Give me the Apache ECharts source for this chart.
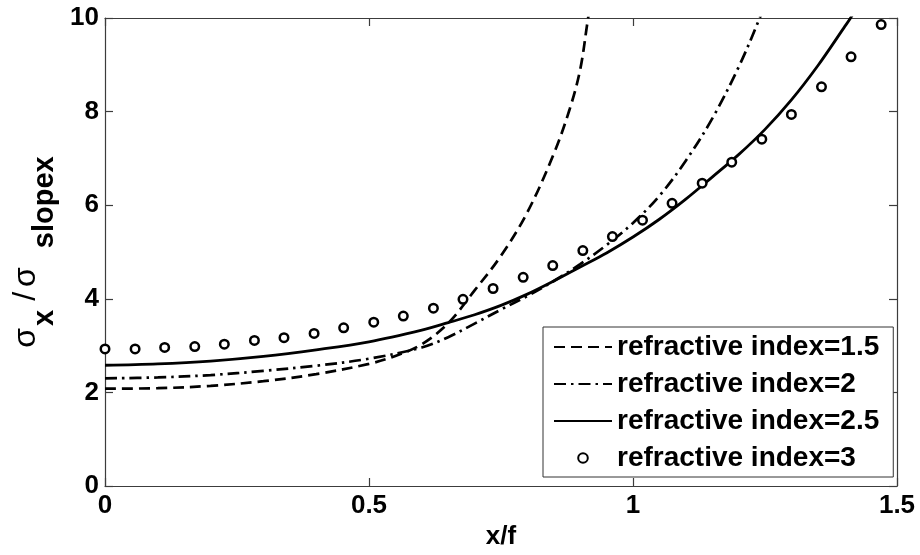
<!DOCTYPE html>
<html>
<head>
<meta charset="utf-8">
<script src="https://cdn.jsdelivr.net/npm/echarts@6/dist/echarts.min.js"></script>
<style>
html,body{margin:0;padding:0;background:#fff;}
#chart{width:920px;height:555px;}
</style>
</head>
<body>
<div id="chart"></div>
<script>
// ---- data ----
var seriesNames = ['refractive index=1.5', 'refractive index=2', 'refractive index=2.5', 'refractive index=3'];

var xN15 = [0, 0.1, 0.2, 0.3, 0.4, 0.5, 0.55, 0.6, 0.65, 0.7, 0.75, 0.8, 0.85, 0.88, 0.9, 0.915, 0.93];
var yN15 = [2.08, 2.09, 2.14, 2.24, 2.39, 2.61, 2.78, 3.03, 3.48, 4.18, 4.92, 5.85, 7.1, 8.05, 8.9, 10.0, 11.0];

var xN2 = [0, 0.1, 0.2, 0.3, 0.4, 0.5, 0.6, 0.65, 0.7, 0.75, 0.8, 0.85, 0.9, 0.95, 1.0, 1.05, 1.1, 1.15, 1.2, 1.24, 1.26];
var yN2 = [2.30, 2.32, 2.37, 2.46, 2.57, 2.72, 2.96, 3.18, 3.47, 3.77, 4.06, 4.38, 4.74, 5.15, 5.62, 6.20, 6.95, 7.85, 8.95, 10.0, 10.6];

var xN25 = [0, 0.1, 0.2, 0.3, 0.4, 0.5, 0.6, 0.65, 0.7, 0.75, 0.8, 0.85, 0.9, 0.95, 1.0, 1.05, 1.1, 1.15, 1.2, 1.25, 1.3, 1.35, 1.4, 1.412, 1.43];
var yN25 = [2.58, 2.61, 2.67, 2.77, 2.91, 3.08, 3.33, 3.49, 3.66, 3.86, 4.10, 4.38, 4.68, 4.98, 5.32, 5.70, 6.13, 6.60, 7.08, 7.62, 8.25, 8.98, 9.80, 10.0, 10.35];

var xN3 = [0, 0.057, 0.113, 0.170, 0.226, 0.283, 0.339, 0.396, 0.452, 0.509, 0.565, 0.622, 0.678, 0.735, 0.792, 0.848, 0.905, 0.961, 1.018, 1.074, 1.131, 1.187, 1.244, 1.300, 1.357, 1.413, 1.470];
var yN3 = [2.93, 2.93, 2.96, 2.98, 3.03, 3.11, 3.17, 3.26, 3.38, 3.50, 3.63, 3.80, 3.99, 4.22, 4.46, 4.71, 5.03, 5.33, 5.68, 6.04, 6.47, 6.92, 7.41, 7.94, 8.53, 9.17, 9.86];

var xTicks = {min: 0, max: 1.5, interval: 0.5};
var yTicks = {min: 0, max: 10, interval: 2};

function pairs(xs, ys) {
  var out = [];
  for (var i = 0; i < xs.length; i++) out.push([xs[i], ys[i]]);
  return out;
}

var FONT = 'Liberation Sans';
var AX = '#3c3c3c';

var chart = echarts.init(document.getElementById('chart'), null, {renderer: 'canvas'});

var axisBase = {
  type: 'value',
  splitLine: {show: false},
  axisLine: {show: true, onZero: false, lineStyle: {color: AX, width: 1.2}},
  axisTick: {show: true, inside: true, length: 8, lineStyle: {color: AX, width: 1.2}}
};

function mk(extra) {
  return Object.assign({}, JSON.parse(JSON.stringify(axisBase)), extra);
}

var hideSym = {opacity: 0};

var option = {
  animation: false,
  backgroundColor: '#fff',
  textStyle: {fontFamily: FONT},
  grid: {left: 105, right: 23, top: 18, bottom: 69, containLabel: false},
  xAxis: [
    mk({
      position: 'bottom', min: xTicks.min, max: xTicks.max, interval: xTicks.interval,
      axisLabel: {fontSize: 26, fontWeight: 'bold', color: '#000', margin: 7, fontFamily: FONT},
      name: 'x/f', nameLocation: 'middle', nameGap: 38,
      nameTextStyle: {fontSize: 26, fontWeight: 'bold', color: '#000', fontFamily: FONT}
    }),
    mk({
      position: 'top', min: xTicks.min, max: xTicks.max, interval: xTicks.interval,
      axisLabel: {show: false}
    })
  ],
  yAxis: [
    mk({
      position: 'left', min: yTicks.min, max: yTicks.max, interval: yTicks.interval,
      axisLabel: {fontSize: 26, fontWeight: 'bold', color: '#000', margin: 6, fontFamily: FONT},
      name: '{a|σ}{b|x}{c|/}{a|σ}{d|slopex}', nameLocation: 'middle', nameGap: 44, nameRotate: 90,
      nameTextStyle: {
        color: '#000',
        rich: {
          a: {fontSize: 32, fontWeight: 'normal', color: '#000', fontFamily: FONT},
          b: {fontSize: 29, fontWeight: 'bold', color: '#000', fontFamily: FONT, padding: [38, 3, 0, 2]},
          c: {fontSize: 32, fontWeight: 'normal', color: '#000', fontFamily: FONT, padding: [0, 5, 0, 6]},
          d: {fontSize: 29, fontWeight: 'bold', color: '#000', fontFamily: FONT, padding: [38, 0, 0, 19]}
        }
      }
    }),
    mk({
      position: 'right', min: yTicks.min, max: yTicks.max, interval: yTicks.interval,
      axisLabel: {show: false}
    })
  ],
  legend: {
    orient: 'vertical',
    left: 543, top: 327,
    itemWidth: 58, itemHeight: 12, itemGap: 7,
    padding: [5, 14, 4, 10],
    borderColor: '#333', borderWidth: 1,
    backgroundColor: '#fff',
    selectedMode: false,
    textStyle: {fontSize: 28, fontWeight: 'bold', color: '#000', lineHeight: 30, fontFamily: FONT},
    data: [
      {name: seriesNames[0], itemStyle: hideSym},
      {name: seriesNames[1], itemStyle: hideSym},
      {name: seriesNames[2], itemStyle: hideSym},
      {name: seriesNames[3]}
    ]
  },
  series: [
    {
      name: seriesNames[0], type: 'line', xAxisIndex: 0, yAxisIndex: 0,
      data: pairs(xN15, yN15), symbol: 'none', smooth: 0.35, clip: true,
      lineStyle: {color: '#000', width: 2.7, type: [11, 6]},
      itemStyle: {color: '#000', opacity: 0}
    },
    {
      name: seriesNames[1], type: 'line', xAxisIndex: 0, yAxisIndex: 0,
      data: pairs(xN2, yN2), symbol: 'none', smooth: 0.35, clip: true,
      lineStyle: {color: '#000', width: 2.7, type: [12, 5, 2.5, 5]},
      itemStyle: {color: '#000', opacity: 0}
    },
    {
      name: seriesNames[2], type: 'line', xAxisIndex: 0, yAxisIndex: 0,
      data: pairs(xN25, yN25), symbol: 'none', smooth: 0.35, clip: true,
      lineStyle: {color: '#000', width: 2.8, type: 'solid'},
      itemStyle: {color: '#000', opacity: 0}
    },
    {
      name: seriesNames[3], type: 'line', xAxisIndex: 0, yAxisIndex: 0,
      data: pairs(xN3, yN3), symbol: 'circle', symbolSize: 8.5, showSymbol: true, clip: false,
      lineStyle: {width: 0, opacity: 0, color: '#000'},
      itemStyle: {color: '#fff', borderColor: '#000', borderWidth: 2.5},
      z: 3
    }
  ]
};

chart.setOption(option);
</script>
</body>
</html>
